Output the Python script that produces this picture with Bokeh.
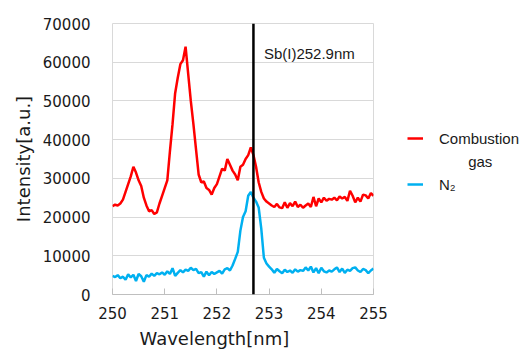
from bokeh.plotting import figure
from bokeh.layouts import row
from bokeh.models import (Range1d, FixedTicker, BasicTickFormatter, Span, Label,
                          Legend, LegendItem, Title)
from bokeh.embed import file_html
from bokeh.resources import INLINE

# ---------------- data ----------------
wavelength = [
    250.00, 250.05, 250.10, 250.15, 250.20, 250.25, 250.30, 250.35, 250.40, 250.45,
    250.50, 250.55, 250.60, 250.65, 250.70, 250.75, 250.80, 250.85, 250.90, 250.95,
    251.00, 251.05, 251.10, 251.15, 251.20, 251.25, 251.30, 251.35, 251.40, 251.45,
    251.50, 251.55, 251.60, 251.65, 251.70, 251.75, 251.80, 251.85, 251.90, 251.95,
    252.00, 252.05, 252.10, 252.15, 252.20, 252.25, 252.30, 252.35, 252.40, 252.45,
    252.50, 252.55, 252.60, 252.65, 252.70, 252.75, 252.80, 252.85, 252.90, 252.95,
    253.00, 253.05, 253.10, 253.15, 253.20, 253.25, 253.30, 253.35, 253.40, 253.45,
    253.50, 253.55, 253.60, 253.65, 253.70, 253.75, 253.80, 253.85, 253.90, 253.95,
    254.00, 254.05, 254.10, 254.15, 254.20, 254.25, 254.30, 254.35, 254.40, 254.45,
    254.50, 254.55, 254.60, 254.65, 254.70, 254.75, 254.80, 254.85, 254.90, 254.95,
    255.00,
]

combustion_gas = [
    22800, 23200, 23000, 23500, 24500, 26500, 28500, 30500, 33000, 31500,
    29500, 28000, 25000, 23000, 21500, 21800, 20800, 21200, 23500, 25500,
    27500, 29500, 37000, 44000, 52000, 56000, 59500, 60500, 64000, 57000,
    50000, 44000, 37500, 31000, 29000, 29200, 27500, 27000, 25800, 27500,
    28500, 30500, 32500, 32000, 35000, 33500, 32000, 31000, 29500, 33000,
    33500, 35000, 36000, 38000, 36000, 33000, 29000, 26500, 24800, 24000,
    23500, 23000, 22600, 23400, 22500, 22300, 23800, 22400, 23600, 22800,
    24000, 22600, 23200, 22400, 23000, 23500, 22600, 25200, 22800, 24800,
    23800, 25000, 24200, 24700, 24500, 25000, 24300, 25300, 24800, 25200,
    24200, 26800, 25500, 23800, 25000, 24000, 25800, 25600, 24800, 26200,
    25500,
]

n2 = [
    4800, 4500, 5000, 4200, 4600, 3800, 5200, 4400, 5100, 3500,
    5300, 4700, 3300, 5000, 4600, 5400, 4800, 5500, 5200, 5700,
    5100, 6000, 5300, 6800, 4800, 5600, 6300, 5700, 6400, 6100,
    6900, 6300, 6600, 5500, 5800, 4600, 5900, 5000, 5800, 5300,
    5700, 6100, 5400, 6500, 6800, 6200, 7500, 9200, 11000, 16500,
    20000, 21500, 25500, 26500, 25000, 24000, 22500, 17000, 9500, 8000,
    7200, 6500, 5600, 6600, 6000, 5500, 6400, 5800, 6200, 5600,
    6500, 5900, 6300, 6100, 7000, 6200, 7200, 5700, 6800, 5500,
    6900, 6000, 5700, 6200, 5900, 6500, 7000, 5800, 6700, 5600,
    6400, 6100, 6800, 7000, 6200, 5800, 6600, 6300, 5500, 6200,
    6700,
]

x_ticks = [250, 251, 252, 253, 254, 255]
y_ticks = [0, 10000, 20000, 30000, 40000, 50000, 60000, 70000]
sb_line_x = 252.7
sb_label_text = "Sb(I)252.9nm"
sb_label_pos = (252.9, 62200)
NB = "\u00a0"
series_names = ["Combustion", NB * 7 + "gas", "N\u2082"]
series_values = [combustion_gas, combustion_gas, n2]
series_colors = ["#FF0000", None, "#00B0F0"]

TICK_FONT = "DejaVu Sans"
TEXT_FONT = "Liberation Sans"
TEXT_COLOR = "#1a1a1a"

# ---------------- main plot ----------------
p = figure(width=393, height=353, output_backend="svg", toolbar_location=None,
           x_range=Range1d(250, 255), y_range=Range1d(0, 70000),
           min_border_left=112, min_border_right=20, min_border_top=23,
           min_border_bottom=59)

p.background_fill_color = "white"
p.border_fill_color = "white"
p.outline_line_color = "#D9D9D9"
p.outline_line_width = 1

p.xgrid.grid_line_color = None
p.ygrid.grid_line_color = "#D9D9D9"
p.ygrid.grid_line_width = 1

p.xaxis.ticker = FixedTicker(ticks=x_ticks)
p.yaxis.ticker = FixedTicker(ticks=y_ticks)
p.yaxis.formatter = BasicTickFormatter(use_scientific=False)
p.xaxis.minor_tick_line_color = None
p.yaxis.minor_tick_line_color = None
p.xaxis.major_tick_in = 6
p.xaxis.major_tick_out = 0
p.xaxis.major_tick_line_color = "#BFBFBF"
p.xaxis.axis_line_color = "#BFBFBF"
p.yaxis.major_tick_line_color = None
p.yaxis.axis_line_color = None
for ax in (p.xaxis, p.yaxis):
    ax.major_label_text_font = TICK_FONT
    ax.major_label_text_font_size = "15px"
    ax.major_label_text_color = TEXT_COLOR
p.xaxis.major_label_standoff = 12
p.yaxis.major_label_standoff = 16

p.yaxis.axis_label = "Intensity[a.u.]"
p.yaxis.axis_label_text_font = TICK_FONT
p.yaxis.axis_label_text_font_size = "18px"
p.yaxis.axis_label_text_font_style = "normal"
p.yaxis.axis_label_text_color = TEXT_COLOR
p.yaxis.axis_label_standoff = 6

p.add_layout(Title(text="Wavelength[nm]", align="left", offset=27, standoff=9,
                   text_font=TICK_FONT, text_font_size="18px",
                   text_font_style="normal", text_color=TEXT_COLOR), "below")

p.line(wavelength, combustion_gas, line_color=series_colors[0], line_width=2.5)
p.line(wavelength, n2, line_color=series_colors[2], line_width=2.5)

p.add_layout(Span(location=sb_line_x, dimension="height", line_color="black",
                  line_width=2.5))
p.add_layout(Label(x=sb_label_pos[0], y=sb_label_pos[1], text=sb_label_text,
                   text_font=TEXT_FONT, text_font_size="15px", text_color=TEXT_COLOR,
                   text_baseline="middle", text_align="left"))

# ---------------- legend panel ----------------
lg = figure(width=128, height=353, output_backend="svg", toolbar_location=None,
            x_range=Range1d(0, 128), y_range=Range1d(0, 353),
            x_axis_location=None, y_axis_location=None,
            min_border=0, outline_line_color=None)
lg.grid.visible = False
lg.background_fill_color = "white"
lg.border_fill_color = "white"

items = []
for name, vals, col in zip(series_names, series_values, series_colors):
    # series data lies outside this panel's ranges: only the legend glyph shows
    if col is None:
        r = lg.line(wavelength, vals, line_alpha=0)
    else:
        r = lg.line(wavelength, vals, line_color=col, line_width=2.5)
    items.append(LegendItem(label=name, renderers=[r]))

legend = Legend(items=items, location=(14, 99), padding=0, margin=0, spacing=1,
                glyph_width=16, glyph_height=22, label_height=22,
                label_standoff=16, border_line_color=None,
                background_fill_alpha=0,
                label_text_font=TEXT_FONT, label_text_font_size="15px",
                label_text_color=TEXT_COLOR)
lg.add_layout(legend)

layout = row(p, lg, spacing=0)
open("out.html", "w").write(file_html(layout, INLINE))
